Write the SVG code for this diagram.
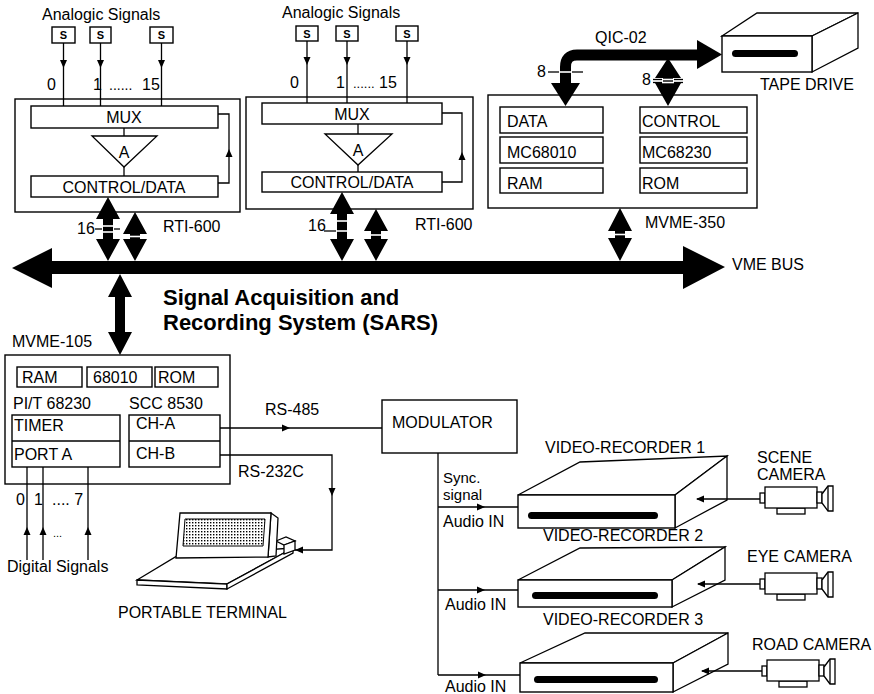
<svg xmlns="http://www.w3.org/2000/svg" xmlns:xlink="http://www.w3.org/1999/xlink" width="874" height="694" viewBox="0 0 874 694">
<style>
  .t { font-family: "Liberation Sans", Arial, sans-serif; font-size: 16px; fill: #000; }
  .c { text-anchor: middle; }
  .s { font-family: "Liberation Sans", Arial, sans-serif; font-size: 11px; font-weight: bold; text-anchor: middle; fill: #000; }
  .ttl { font-family: "Liberation Sans", Arial, sans-serif; font-size: 22px; font-weight: bold; fill: #000; }
  .bx { fill: #fff; stroke: #000; stroke-width: 1.4; }
  .ln { fill: none; stroke: #000; stroke-width: 1.3; }
  .fat { fill: #000; stroke: none; }
  .cut { stroke: #fff; stroke-width: 1.6; }
  .tk { stroke: #000; stroke-width: 1.3; }
</style>
<defs>
  <!-- small arrowhead, tip at origin, pointing along +x -->
  <path id="ah" d="M0,0 L-8,-3.5 L-8,3.5 Z" fill="#000"/>
  <pattern id="dots" width="3" height="3" patternUnits="userSpaceOnUse">
    <rect x="0" y="0" width="1.4" height="1.4" fill="#000"/>
  </pattern>
  <!-- video camera drawn from the left end of its lens cap -->
  <g id="cam" class="ln" style="fill:#fff">
    <rect x="0" y="-5" width="5" height="10"/>
    <rect x="17" y="10" width="28" height="6"/>
    <rect x="5" y="-11" width="52" height="21"/>
    <rect x="57" y="-6" width="5" height="11"/>
    <path d="M62,-4 L68,-12 H73 V13 H68 L62,5 Z"/>
    <line x1="68" y1="-12" x2="68" y2="13"/>
  </g>
</defs>

<!-- RTI-600 acquisition board #1 -->
<g id="rti1">
  <text class="t" x="42" y="20">Analogic Signals</text>
  <rect class="bx" x="52" y="27" width="23" height="16"/><text class="s" x="63.5" y="39">S</text>
  <rect class="bx" x="90" y="27" width="21" height="16"/><text class="s" x="100.5" y="39">S</text>
  <rect class="bx" x="150" y="27" width="23" height="16"/><text class="s" x="161.5" y="39">S</text>
  <rect class="bx" x="15" y="99" width="225" height="113"/>
  <rect class="bx" x="31" y="106" width="187" height="22"/>
  <text class="t c" x="124" y="123">MUX</text>
  <line class="ln" x1="124" y1="128" x2="124" y2="136"/>
  <path class="ln" d="M92,136 H157 L124,167 Z"/>
  <text class="t c" x="124" y="158">A</text>
  <line class="ln" x1="124" y1="167" x2="124" y2="176"/>
  <rect class="bx" x="31" y="176" width="187" height="21"/>
  <text class="t c" x="124" y="193">CONTROL/DATA</text>
  <text class="t" x="163" y="232">RTI-600</text>
</g>

<!-- RTI-600 acquisition board #2 -->
<g id="rti2">
  <text class="t" x="282" y="18">Analogic Signals</text>
  <rect class="bx" x="296" y="26" width="22" height="15"/><text class="s" x="307" y="37.5">S</text>
  <rect class="bx" x="336" y="26" width="22" height="15"/><text class="s" x="347" y="37.5">S</text>
  <rect class="bx" x="396" y="26" width="22" height="15"/><text class="s" x="407" y="37.5">S</text>
  <rect class="bx" x="246" y="97" width="227" height="112"/>
  <rect class="bx" x="262" y="103" width="180" height="21"/>
  <text class="t c" x="352" y="120">MUX</text>
  <line class="ln" x1="358" y1="124" x2="358" y2="134"/>
  <path class="ln" d="M325,134 H392 L358,165 Z"/>
  <text class="t c" x="358" y="156">A</text>
  <line class="ln" x1="358" y1="165" x2="358" y2="172"/>
  <rect class="bx" x="262" y="172" width="180" height="20"/>
  <text class="t c" x="352" y="188">CONTROL/DATA</text>
  <text class="t" x="415" y="230">RTI-600</text>
</g>

<!-- MVME-350 tape controller -->
<g id="mvme350">
  <rect class="bx" x="488" y="95" width="269" height="113"/>
  <rect class="bx" x="500" y="107" width="103" height="26"/><text class="t" x="507" y="127">DATA</text>
  <rect class="bx" x="500" y="137" width="103" height="26"/><text class="t" x="507" y="158">MC68010</text>
  <rect class="bx" x="500" y="168" width="103" height="25"/><text class="t" x="507" y="189">RAM</text>
  <rect class="bx" x="640" y="107" width="107" height="26"/><text class="t" x="642" y="127">CONTROL</text>
  <rect class="bx" x="640" y="137" width="107" height="26"/><text class="t" x="642" y="158">MC68230</text>
  <rect class="bx" x="640" y="168" width="107" height="25"/><text class="t" x="642" y="189">ROM</text>
  <text class="t" x="645" y="228">MVME-350</text>
</g>

<!-- tape drive -->
<g id="tape">
  <path class="ln" style="fill:#fff" d="M722,36 L757,13 H858 L812,36 Z"/>
  <path class="ln" style="fill:#fff" d="M812,36 L858,13 V48 L812,72 Z"/>
  <rect class="bx" x="722" y="36" width="90" height="36"/>
  <rect x="732" y="50" width="66" height="7" rx="3.5" fill="#000"/>
  <text class="t" x="760" y="90">TAPE DRIVE</text>
</g>

<!-- VME bus -->
<g id="vmebus">
  <path class="fat" d="M12,268 L52,248 V261 H683 V246 L725,267 L683,289 V274 H52 V288 Z"/>
  <text class="t" x="732" y="270">VME BUS</text>
</g>

<g id="title">
  <text class="ttl" x="163" y="305">Signal Acquisition and</text>
  <text class="ttl" x="163" y="330">Recording System (SARS)</text>
</g>

<!-- MVME-105 CPU board -->
<g id="mvme105">
  <text class="t" x="12" y="347">MVME-105</text>
  <rect class="bx" x="5" y="355" width="225" height="129"/>
  <rect class="bx" x="17" y="367" width="65" height="20"/><text class="t" x="22" y="383">RAM</text>
  <rect class="bx" x="87" y="367" width="65" height="20"/><text class="t" x="93" y="383">68010</text>
  <rect class="bx" x="155" y="367" width="63" height="20"/><text class="t" x="158" y="383">ROM</text>
  <text class="t" x="13" y="409">PI/T 68230</text>
  <text class="t" x="129" y="409">SCC 8530</text>
  <rect class="bx" x="12" y="415" width="108" height="52"/>
  <line class="ln" x1="12" y1="441" x2="120" y2="441"/>
  <text class="t" x="14" y="431">TIMER</text>
  <text class="t" x="14" y="460">PORT A</text>
  <rect class="bx" x="129" y="415" width="91" height="52"/>
  <line class="ln" x1="129" y1="441" x2="220" y2="441"/>
  <text class="t" x="136" y="429">CH-A</text>
  <text class="t" x="136" y="459">CH-B</text>
</g>

<!-- portable terminal -->
<g id="terminal">
  <path class="ln" style="fill:#fff" d="M137,580 L177,556 L293,548 L227,584 Z"/>
  <path class="ln" style="fill:#fff" d="M137,580 V585 L227,589 V584 Z"/>
  <path class="ln" style="fill:#fff" d="M227,584 V589 L293,553 V548 Z"/>
  <path class="ln" style="fill:#fff" d="M276,541 L286,537 L295,541 L284,545 Z"/>
  <path class="ln" style="fill:#fff" d="M284,545 L295,541 V550 L284,554 Z"/>
  <path class="ln" style="fill:#fff" d="M271,513 L278,518 L276,556 L268,557 Z"/>
  <path class="ln" style="fill:#fff" d="M180,513 H271 L268,557 L176,558 Z"/>
  <path d="M185,519 H265 L263,546 H183 Z" fill="url(#dots)" stroke="#000" stroke-width="1"/>
  <text class="t" x="118" y="618">PORTABLE TERMINAL</text>
</g>

<!-- modulator -->
<g id="modulator">
  <rect class="bx" x="382" y="400" width="135" height="53"/>
  <text class="t" x="392" y="428">MODULATOR</text>
</g>

<!-- video recorders -->
<g id="vr1">
  <text class="t" x="545" y="453">VIDEO-RECORDER 1</text>
  <path class="ln" style="fill:#fff" d="M518,495 L580,462 L727,456 L675,495 Z"/>
  <path class="ln" style="fill:#fff" d="M675,495 L727,456 V500 L675,528 Z"/>
  <rect class="bx" x="518" y="495" width="157" height="33"/>
  <rect x="528" y="512" width="130" height="7" rx="3.5" fill="#000"/>
</g>
<g id="vr2">
  <text class="t" x="543" y="541">VIDEO-RECORDER 2</text>
  <path class="ln" style="fill:#fff" d="M518,580 L580,548 L725,547 L672,580 Z"/>
  <path class="ln" style="fill:#fff" d="M672,580 L725,547 V580 L672,607 Z"/>
  <rect class="bx" x="518" y="580" width="154" height="27"/>
  <rect x="532" y="592" width="126" height="7" rx="3.5" fill="#000"/>
</g>
<g id="vr3">
  <text class="t" x="543" y="625">VIDEO-RECORDER 3</text>
  <path class="ln" style="fill:#fff" d="M520,663 L585,633 L728,633 L673,663 Z"/>
  <path class="ln" style="fill:#fff" d="M673,663 L728,633 V664 L673,692 Z"/>
  <rect class="bx" x="520" y="663" width="153" height="29"/>
  <rect x="534" y="676" width="124" height="7" rx="3.5" fill="#000"/>
</g>

<!-- cameras -->
<g id="scenecam">
  <text class="t" x="757" y="463">SCENE</text>
  <text class="t" x="757" y="480">CAMERA</text>
  <use xlink:href="#cam" x="760" y="498"/>
</g>
<g id="eyecam">
  <text class="t" x="747" y="562">EYE CAMERA</text>
  <use xlink:href="#cam" x="760" y="584"/>
</g>
<g id="roadcam">
  <text class="t" x="752" y="650">ROAD CAMERA</text>
  <use xlink:href="#cam" x="762" y="671"/>
</g>

<!-- connectors -->
<g id="connectors">
  <!-- analog inputs, board 1 -->
  <path class="ln" d="M63.5,43 V106 M100.5,43 V106 M161.5,43 V106"/>
  <use xlink:href="#ah" transform="translate(63.5,68) rotate(90)"/>
  <use xlink:href="#ah" transform="translate(100.5,68) rotate(90)"/>
  <use xlink:href="#ah" transform="translate(161.5,68) rotate(90)"/>
  <text class="t" x="47" y="90">0</text>
  <text class="t" x="93" y="90">1</text>
  <text class="t" x="109" y="90" style="font-size:14px">......</text>
  <text class="t" x="142" y="90">15</text>
  <path class="ln" d="M218,183 H229 V114 H218"/>
  <use xlink:href="#ah" transform="translate(229,149) rotate(-90)"/>

  <!-- analog inputs, board 2 -->
  <path class="ln" d="M307,41 V103 M347,41 V103 M407,41 V103"/>
  <use xlink:href="#ah" transform="translate(307,65) rotate(90)"/>
  <use xlink:href="#ah" transform="translate(347,65) rotate(90)"/>
  <use xlink:href="#ah" transform="translate(407,65) rotate(90)"/>
  <text class="t" x="290" y="88">0</text>
  <text class="t" x="336" y="88">1</text>
  <text class="t" x="353" y="88" style="font-size:13px">......</text>
  <text class="t" x="379" y="88">15</text>
  <path class="ln" d="M442,182 H462 V113 H442"/>
  <use xlink:href="#ah" transform="translate(462,152) rotate(-90)"/>

  <!-- board 1 bus links -->
  <path class="fat" d="M108,197 L120,219 L113,219 L113,239 L120,239 L108,261 L96,239 L103,239 L103,219 L96,219 Z"/>
  <path class="fat" d="M135,212 L147,234 L140,234 L140,239 L147,239 L135,261 L123,239 L130,239 L130,234 L123,234 Z"/>
  <line class="cut" x1="102" y1="226" x2="114" y2="226"/>
  <line class="cut" x1="102" y1="232" x2="114" y2="232"/>
  <line class="tk" x1="95" y1="229" x2="102" y2="229"/>
  <line class="tk" x1="114" y1="229" x2="120" y2="229"/>
  <line class="cut" x1="129" y1="236.5" x2="141" y2="236.5"/>
  <text class="t" x="77" y="234">16</text>

  <!-- board 2 bus links -->
  <path class="fat" d="M342,192 L354,214 L347,214 L347,239 L354,239 L342,261 L330,239 L337,239 L337,214 L330,214 Z"/>
  <path class="fat" d="M376,209 L388,231 L381,231 L381,239 L388,239 L376,261 L364,239 L371,239 L371,231 L364,231 Z"/>
  <line class="cut" x1="336" y1="221" x2="348" y2="221"/>
  <line class="cut" x1="336" y1="231" x2="348" y2="231"/>
  <line class="tk" x1="324" y1="231" x2="336" y2="231"/>
  <line class="cut" x1="370" y1="235" x2="382" y2="235"/>
  <text class="t" x="308" y="231">16</text>

  <!-- MVME-350 bus link -->
  <path class="fat" d="M620,208 L632,231 L625,231 L625,238 L632,238 L620,261 L608,238 L615,238 L615,231 L608,231 Z"/>
  <line class="cut" x1="614" y1="234.5" x2="626" y2="234.5"/>

  <!-- MVME-105 bus link -->
  <path class="fat" d="M120,274 L132,297 L125,297 L125,332 L132,332 L120,355 L108,332 L115,332 L115,297 L108,297 Z"/>

  <!-- QIC-02 interface -->
  <path d="M565.5,84 V67 Q565.5,55 577,55 H698" fill="none" stroke="#000" stroke-width="11"/>
  <path class="fat" d="M551,83 H580 L565.5,106 Z"/>
  <path class="fat" d="M697,40 L722,54.5 L697,69 Z"/>
  <line class="cut" x1="559" y1="72" x2="572" y2="72"/>
  <line class="tk" x1="548" y1="72" x2="559" y2="72"/>
  <line class="tk" x1="572" y1="72" x2="583" y2="72"/>
  <text class="t" x="537" y="77">8</text>
  <path class="fat" d="M668,58 L681,78 L673,78 L673,83 L681,83 L668,106 L655,83 L663,83 L663,78 L655,78 Z"/>
  <line class="cut" x1="662" y1="79.5" x2="674" y2="79.5"/>
  <line class="cut" x1="662" y1="82.5" x2="674" y2="82.5"/>
  <line class="tk" x1="653" y1="79.5" x2="662" y2="79.5"/>
  <line class="tk" x1="674" y1="79.5" x2="683" y2="79.5"/>
  <line class="tk" x1="653" y1="82.5" x2="662" y2="82.5"/>
  <line class="tk" x1="674" y1="82.5" x2="683" y2="82.5"/>
  <text class="t" x="642" y="85">8</text>
  <text class="t" x="595" y="43">QIC-02</text>

  <!-- serial links -->
  <path class="ln" d="M220,428 H382"/>
  <use xlink:href="#ah" transform="translate(290,428)"/>
  <text class="t" x="265" y="415">RS-485</text>
  <path class="ln" d="M220,455 H332 V550 H295"/>
  <use xlink:href="#ah" transform="translate(332,496) rotate(90)"/>
  <use xlink:href="#ah" transform="translate(295,550) rotate(180)"/>
  <text class="t" x="238" y="477">RS-232C</text>

  <!-- digital inputs -->
  <path class="ln" d="M27,467 V560 M43,467 V560 M88,467 V560"/>
  <use xlink:href="#ah" transform="translate(27,527) rotate(-90)"/>
  <use xlink:href="#ah" transform="translate(43,527) rotate(-90)"/>
  <use xlink:href="#ah" transform="translate(88,527) rotate(-90)"/>
  <text class="t" x="16" y="505">0</text>
  <text class="t" x="34" y="505">1</text>
  <text class="t" x="52" y="505">.... 7</text>
  <text class="t" x="53" y="537" style="font-size:11px">...</text>
  <text class="t" x="7" y="572">Digital Signals</text>

  <!-- modulator outputs -->
  <path class="ln" d="M438,453 V675 M438,507 H518 M438,590 H518 M438,675 H520"/>
  <use xlink:href="#ah" transform="translate(485,507)"/>
  <use xlink:href="#ah" transform="translate(485,590)"/>
  <use xlink:href="#ah" transform="translate(486,675)"/>
  <text class="t" x="443" y="483" style="font-size:15px">Sync.</text>
  <text class="t" x="443" y="500" style="font-size:15px">signal</text>
  <text class="t" x="443" y="527">Audio IN</text>
  <text class="t" x="445" y="610">Audio IN</text>
  <text class="t" x="445" y="692">Audio IN</text>

  <!-- camera feeds -->
  <path class="ln" d="M760,499 H697 M760,584 H698 M762,671 H702"/>
  <use xlink:href="#ah" transform="translate(696,499) rotate(180)"/>
  <use xlink:href="#ah" transform="translate(697,584) rotate(180)"/>
  <use xlink:href="#ah" transform="translate(701,671) rotate(180)"/>
</g>
</svg>
